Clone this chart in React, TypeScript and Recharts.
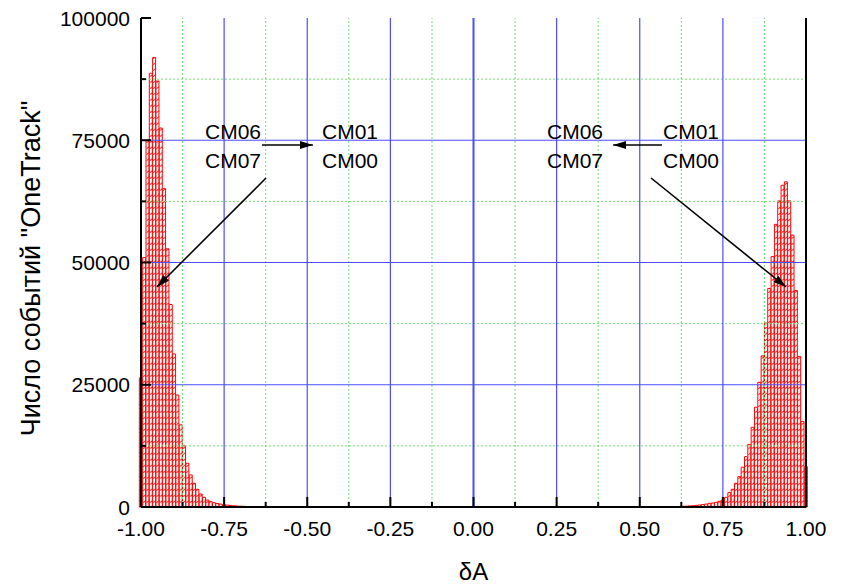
import { ComposedChart, Bar, XAxis, YAxis, ReferenceLine, ReferenceDot } from 'recharts'

// histogram bins: width 0.01, centres from -1.00 to 1.00
const BIN_START = -1.0
const BIN_STEP = 0.01
const BIN_COUNT = 201

// counts of the left peak, first bin at -1.00
const LEFT_COUNTS = [
  26400, 51000, 75000, 88700, 91900, 87100, 77500, 65100, 52800, 41400,
  31300, 22900, 16800, 12500, 8950, 6560, 4850, 3620, 2660, 1980,
  1430, 1100, 870, 720, 600, 480, 390, 320, 260, 210,
  170, 140, 110, 90, 70, 55, 45, 35, 25, 15,
]

// counts of the right peak, first bin at 0.57, last bin at 1.00
const RIGHT_START = 0.57
const RIGHT_COUNTS = [
  20, 35, 50, 70, 90, 115, 145, 180, 220, 270,
  330, 400, 500, 600, 750, 820, 960, 1160, 1430, 1980,
  2940, 3620, 4850, 6210, 8130, 10300, 12800, 16300, 20400, 25500,
  30900, 37600, 44700, 51200, 57800, 62600, 65800, 66500, 62600, 55600,
  44300, 30800, 17500, 8270,
]

const X_TICKS = [-1, -0.875, -0.75, -0.625, -0.5, -0.375, -0.25, -0.125, 0, 0.125, 0.25, 0.375, 0.5, 0.625, 0.75, 0.875, 1]
const Y_TICKS = [0, 12500, 25000, 37500, 50000, 62500, 75000, 87500, 100000]
const X_MAJOR_GRID = [-0.75, -0.5, -0.25, 0, 0.25, 0.5, 0.75]
const X_MINOR_GRID = [-0.875, -0.625, -0.375, -0.125, 0.125, 0.375, 0.625, 0.875]
const Y_MAJOR_GRID = [25000, 50000, 75000]
const Y_MINOR_GRID = [12500, 37500, 62500, 87500]

const NOTES = [
  { text: 'CM06', x: -0.8075, y: 76900 },
  { text: 'CM07', x: -0.8075, y: 70960 },
  { text: 'CM01', x: -0.4556, y: 76900 },
  { text: 'CM00', x: -0.4556, y: 70960 },
  { text: 'CM06', x: 0.221, y: 76900 },
  { text: 'CM07', x: 0.221, y: 70960 },
  { text: 'CM01', x: 0.57, y: 76900 },
  { text: 'CM00', x: 0.57, y: 70960 },
]

const ARROWS = [
  { x1: -0.636, y1: 74030, x2: -0.483, y2: 74030 },
  { x1: 0.567, y1: 74030, x2: 0.42, y2: 74030 },
  { x1: -0.624, y1: 67280, x2: -0.952, y2: 44990 },
  { x1: 0.534, y1: 67280, x2: 0.94, y2: 44990 },
]

const FONT = '"Liberation Sans", Arial, sans-serif'
const BLUE = '#4d4dff'
const GREEN = '#6fe06f'

const rightFirst = Math.round((RIGHT_START - BIN_START) / BIN_STEP)
const data = Array.from({ length: BIN_COUNT }, (_, i) => {
  const x = Math.round((BIN_START + i * BIN_STEP) * 100) / 100
  let count = 0
  if (i < LEFT_COUNTS.length) count = LEFT_COUNTS[i]
  else if (i >= rightFirst) count = RIGHT_COUNTS[i - rightFirst] ?? 0
  return { x, count }
})

const isMajor = (v: number, step: number) => Math.abs(v / step - Math.round(v / step)) < 1e-6

const XTick = (props: any) => {
  const { x, y, payload } = props
  const v = payload.value as number
  const major = isMajor(v, 0.25)
  return (
    <g>
      <line x1={x} y1={y} x2={x} y2={y - (major ? 10 : 5)} stroke="#000" strokeWidth={2} />
      {major && (
        <text x={x} y={y + 29} textAnchor="middle" fontFamily={FONT} fontSize={21} fill="#000">
          {v.toFixed(2)}
        </text>
      )}
    </g>
  )
}

const YTickLeft = (props: any) => {
  const { x, y, payload } = props
  const v = payload.value as number
  const major = isMajor(v, 25000)
  return (
    <g>
      <line x1={x} y1={y} x2={x + (major ? 10 : 5)} y2={y} stroke="#000" strokeWidth={2} />
      {major && (
        <text x={x - 11} y={y} dy="0.36em" textAnchor="end" fontFamily={FONT} fontSize={21} fill="#000">
          {v}
        </text>
      )}
    </g>
  )
}

const YTickRight = (props: any) => {
  const { x, y, payload } = props
  const major = isMajor(payload.value, 25000)
  return <line x1={x} y1={y} x2={x - (major ? 10 : 5)} y2={y} stroke="#000" strokeWidth={2} />
}

export default function App() {
  return (
    <div style={{ position: 'absolute', left: 0, top: 0, background: '#fff' }}>
      <svg width={0} height={0} style={{ position: 'absolute' }}>
        <defs>
          <pattern id="hatch" patternUnits="userSpaceOnUse" width={3.325} height={6}>
            <rect width={3.325} height={6} fill="#fff" />
            <line x1={0.2} y1={4.6} x2={3.1} y2={2.6} stroke="#ff0000" strokeWidth={0.9} />
          </pattern>
          <marker id="arrow" markerUnits="userSpaceOnUse" markerWidth={13} markerHeight={8} refX={13} refY={4} orient="auto">
            <path d="M0,0 L13,4 L0,8 z" fill="#000" />
          </marker>
        </defs>
      </svg>
      <ComposedChart width={844} height={586} data={data} margin={{ top: 18, right: 0, bottom: 0, left: 0 }} barCategoryGap={0}>
        <XAxis
          dataKey="x" type="number" domain={[-1, 1]} ticks={X_TICKS} interval={0}
          height={79} tickSize={0} tickMargin={0} tickLine={false}
          axisLine={{ stroke: '#000', strokeWidth: 2 }} tick={XTick}
          label={(p: any) => (
            <text x={p.viewBox.x + p.viewBox.width / 2} y={p.viewBox.y + 73} textAnchor="middle" fontFamily={FONT} fontSize={24} fill="#000">
              δA
            </text>
          )}
        />
        <YAxis
          yAxisId="l" domain={[0, 100000]} ticks={Y_TICKS} interval={0} width={141}
          tickSize={0} tickMargin={0} tickLine={false}
          axisLine={{ stroke: '#000', strokeWidth: 2 }} tick={YTickLeft}
          label={(p: any) => {
            const cx = p.viewBox.x + 31
            const cy = p.viewBox.y + p.viewBox.height / 2 + 6
            return (
              <text x={cx} y={cy} dy="0.35em" transform={`rotate(-90 ${cx} ${cy})`} textAnchor="middle" fontFamily={FONT} fontSize={27} fill="#000">
                Число событий "OneTrack"
              </text>
            )
          }}
        />
        <YAxis
          yAxisId="r" orientation="right" domain={[0, 100000]} ticks={Y_TICKS} interval={0} width={38}
          tickSize={0} tickMargin={0} tickLine={false}
          axisLine={{ stroke: '#000', strokeWidth: 2 }} tick={YTickRight}
        />
        <Bar dataKey="count" yAxisId="l" fill="url(#hatch)" stroke="#ff0000" strokeWidth={1} barSize={3.325} isAnimationActive={false} />
        {X_MINOR_GRID.map((v) => (
          <ReferenceLine key={'xm' + v} x={v} yAxisId="l" stroke={GREEN} strokeWidth={1} strokeDasharray="2 2" />
        ))}
        {Y_MINOR_GRID.map((v) => (
          <ReferenceLine key={'ym' + v} y={v} yAxisId="l" stroke={GREEN} strokeWidth={1} strokeDasharray="2 2" />
        ))}
        {X_MAJOR_GRID.map((v) => (
          <ReferenceLine key={'xM' + v} x={v} yAxisId="l" stroke={BLUE} strokeWidth={v === 0 ? 2 : 1.2} />
        ))}
        {Y_MAJOR_GRID.map((v) => (
          <ReferenceLine key={'yM' + v} y={v} yAxisId="l" stroke={BLUE} strokeWidth={1.2} />
        ))}
        {ARROWS.map((a, i) => (
          <ReferenceLine
            key={'a' + i} yAxisId="l"
            segment={[{ x: a.x1, y: a.y1 }, { x: a.x2, y: a.y2 }]}
            shape={(p: any) => (
              <line x1={p.x1} y1={p.y1} x2={p.x2} y2={p.y2} stroke="#000" strokeWidth={1.6} markerEnd="url(#arrow)" />
            )}
          />
        ))}
        {NOTES.map((n, i) => (
          <ReferenceDot
            key={'n' + i} x={n.x} y={n.y} yAxisId="l" r={0}
            shape={(p: any) => (
              <text x={p.cx} y={p.cy} dy="0.36em" fontFamily={FONT} fontSize={21} fill="#000">
                {n.text}
              </text>
            )}
          />
        ))}
      </ComposedChart>
    </div>
  )
}
